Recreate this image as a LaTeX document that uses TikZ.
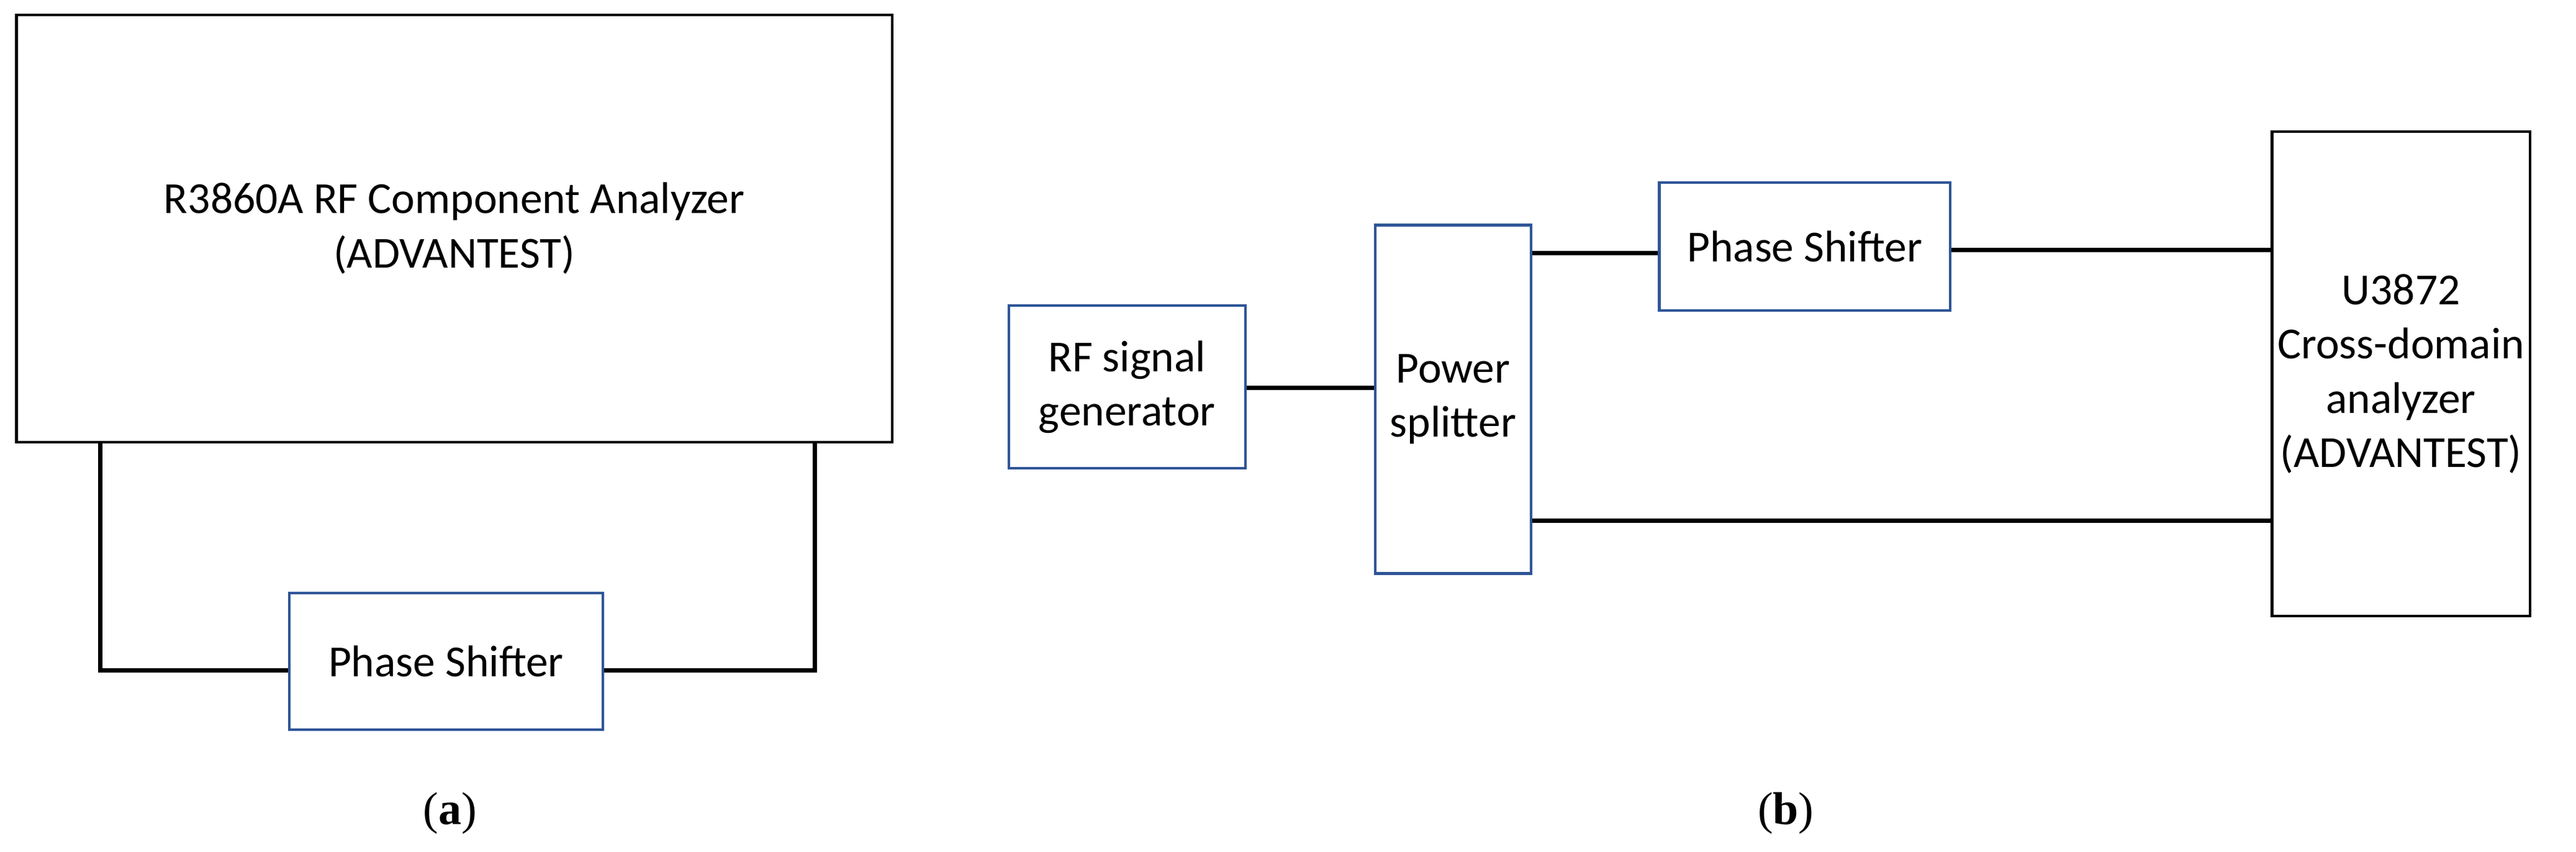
\documentclass[tikz,border=0pt]{standalone}
\usepackage{fontspec}
\setmainfont{Carlito}
\newfontfamily\serifcap{Liberation Serif}
\definecolor{bluebox}{RGB}{47,85,151}
\begin{document}
\begin{tikzpicture}[x=1pt,y=-1pt,
  bbox/.style={draw=bluebox,line width=1.6pt,font=\fontsize{27}{33}\selectfont,align=center,inner sep=0pt},
  kbox/.style={draw=black,line width=1.6pt,font=\fontsize{27}{33}\selectfont,align=center,inner sep=0pt},
  wire/.style={line width=2.6pt},
  sublabel/.style={font=\serifcap\fontsize{28}{32}\selectfont}]
\useasboundingbox (0,0) rectangle (1568,518.5);
\node[kbox,minimum width=533pt,minimum height=260pt] (ana) at (276.5,139) {R3860A RF Component Analyzer\\(ADVANTEST)};
\node[bbox,minimum width=191pt,minimum height=83pt] (psa) at (271.5,402.5) {Phase Shifter};
\coordinate (la) at (61,408); \coordinate (ra) at (496,408);
\draw[wire] (61,269) -- (la) -- (psa.west|-la);
\draw[wire] (496,269) -- (ra) -- (psa.east|-ra);
\node[sublabel] (capa) at (274,495) {(\textbf{a})};

\node[bbox,minimum width=144pt,minimum height=99pt] (gen) at (686,235.5) {RF signal\\generator};
\node[bbox,minimum width=95pt,minimum height=212pt] (spl) at (884.5,243) {Power\\splitter};
\node[bbox,minimum width=177pt,minimum height=78pt] (psb) at (1098.5,150) {Phase Shifter};
\node[kbox,minimum width=157pt,minimum height=295pt] (u) at (1461.5,227.5) {U3872\\Cross-domain\\analyzer\\(ADVANTEST)};
\draw[wire] (gen.east|-0,236) -- (spl.west|-0,236);
\draw[wire] (spl.east|-0,154) -- (psb.west|-0,154);
\draw[wire] (psb.east|-0,152) -- (u.west|-0,152);
\draw[wire] (spl.east|-0,317) -- (u.west|-0,317);
\node[sublabel] (capb) at (1087,495) {(\textbf{b})};
\end{tikzpicture}
\end{document}
